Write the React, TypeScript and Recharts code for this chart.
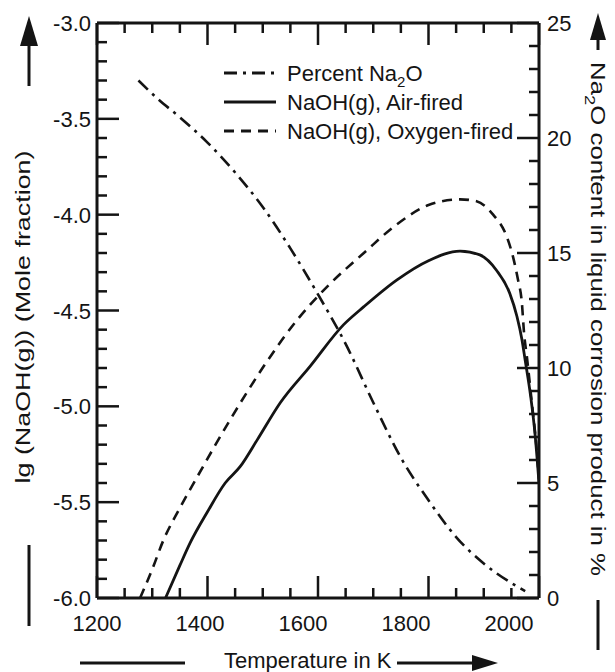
import { LineChart, Line, XAxis, YAxis, Legend } from "recharts"

// NaOH(g) air-fired: temperature (K) and lg mole fraction
const airTemp = [1324, 1350, 1369, 1400, 1432, 1459, 1490, 1532, 1586, 1646, 1683, 1743, 1800, 1857, 1893, 1923, 1947, 1960, 1969, 1975, 1985, 1993, 2000]
const airLg = [-6.0, -5.83, -5.71, -5.55, -5.4, -5.315, -5.175, -4.98, -4.79, -4.575, -4.48, -4.34, -4.24, -4.19, -4.21, -4.29, -4.41, -4.53, -4.65, -4.76, -4.95, -5.15, -5.4]

// NaOH(g) oxygen-fired
const oxyTemp = [1278, 1300, 1320, 1350, 1381, 1441, 1502, 1562, 1622, 1683, 1743, 1800, 1857, 1887, 1917, 1941, 1953, 1962, 1969, 1973, 1978, 1987, 1995, 2000]
const oxyLg = [-6.0, -5.85, -5.7, -5.53, -5.37, -5.07, -4.79, -4.55, -4.36, -4.2, -4.05, -3.95, -3.92, -3.93, -4.0, -4.11, -4.22, -4.34, -4.46, -4.62, -4.74, -4.98, -5.2, -5.38]

// Na2O content in liquid corrosion product (%)
const naTemp = [1275, 1310, 1350, 1400, 1450, 1500, 1550, 1600, 1650, 1700, 1750, 1800, 1850, 1900, 1950, 1975]
const naPct = [22.5, 21.7, 20.9, 19.8, 18.5, 17.0, 15.2, 13.2, 11.05, 8.5, 6.1, 4.25, 2.65, 1.5, 0.65, 0.3]

const xMajor = [1200, 1400, 1600, 1800, 2000]
const leftMajor = [-6.0, -5.5, -5.0, -4.5, -4.0, -3.5, -3.0]
const rightMajor = [0, 5, 10, 15, 20, 25]

const seriesNames = ["Percent Na2O", "NaOH(g), Air-fired", "NaOH(g), Oxygen-fired"]

const INK = "#141414"
const FONT = "'Liberation Sans', Arial, Helvetica, sans-serif"
const DASH = "10 7"
const DASHDOT = "13 6 3 6"

const xTicks = Array.from({ length: 17 }, (_, i) => 1200 + i * 50)
const leftTicks = Array.from({ length: 31 }, (_, i) => Math.round(-60 + i) / 10)
const rightTicks = Array.from({ length: 26 }, (_, i) => i)

const airData = airTemp.map((t, i) => ({ t, v: airLg[i] }))
const oxyData = oxyTemp.map((t, i) => ({ t, v: oxyLg[i] }))
const naData = naTemp.map((t, i) => ({ t, v: naPct[i] }))

function BottomTick(props: any) {
  const { x, y, payload } = props
  const major = xMajor.includes(payload.value)
  // labels in the original sit a little left of their ticks, more so towards 2000
  const shift = ((payload.value - 1200) / 800) * 30
  return (
    <g>
      <line x1={x} x2={x} y1={y} y2={y - (major ? 22 : 10)} stroke={INK} strokeWidth={2.5} />
      {major && (
        <text x={x - shift} y={y + 33} textAnchor="middle" fontSize={22} fontFamily={FONT} fill={INK}>
          {payload.value}
        </text>
      )}
    </g>
  )
}

function TopTick(props: any) {
  const { x, y, payload } = props
  const major = xMajor.includes(payload.value)
  return <line x1={x} x2={x} y1={y} y2={y + (major ? 22 : 10)} stroke={INK} strokeWidth={2.5} />
}

function LeftTick(props: any) {
  const { x, y, payload } = props
  const major = leftMajor.includes(payload.value)
  return (
    <g>
      <line x1={x} x2={x + (major ? 22 : 10)} y1={y} y2={y} stroke={INK} strokeWidth={2.5} />
      {major && (
        <text x={x - 6} y={y + 8} textAnchor="end" fontSize={22} fontFamily={FONT} fill={INK}>
          {payload.value.toFixed(1)}
        </text>
      )}
    </g>
  )
}

function RightTick(props: any) {
  const { x, y, payload } = props
  const major = rightMajor.includes(payload.value)
  return (
    <g>
      <line x1={x} x2={x - (major ? 22 : 10)} y1={y} y2={y} stroke={INK} strokeWidth={2.5} />
      {major && (
        <text x={x + 8} y={y + 8} textAnchor="start" fontSize={22} fontFamily={FONT} fill={INK}>
          {payload.value}
        </text>
      )}
    </g>
  )
}

const legendDash: Record<string, string | undefined> = {
  "Percent Na2O": DASHDOT,
  "NaOH(g), Air-fired": undefined,
  "NaOH(g), Oxygen-fired": DASH,
}

function LegendBox() {
  return (
    <svg width={300} height={90}>
      {seriesNames.map((name, i) => (
        <g key={name} transform={`translate(0, ${12 + i * 29})`}>
          <line x1={0} x2={52} y1={0} y2={0} stroke={INK} strokeWidth={2.8} strokeDasharray={legendDash[name]} />
          <text x={63} y={8} fontSize={22} fontFamily={FONT} fill={INK}>
            {name === "Percent Na2O" ? (
              <>
                <tspan>Percent Na</tspan>
                <tspan dy={6} fontSize={15}>2</tspan>
                <tspan dy={-6}>O</tspan>
              </>
            ) : (
              name
            )}
          </text>
        </g>
      ))}
    </svg>
  )
}

function Decorations() {
  return (
    <svg width={615} height={672} style={{ position: "absolute", left: 0, top: 0, pointerEvents: "none" }}>
      {/* left axis title with arrow */}
      <polygon points="29,16 20,46 38,46" fill={INK} />
      <line x1={29} x2={29} y1={40} y2={86} stroke={INK} strokeWidth={3} />
      <line x1={29} x2={29} y1={545} y2={626} stroke={INK} strokeWidth={3} />
      <text
        x={30}
        y={317}
        transform="rotate(-90, 30, 317)"
        textAnchor="middle"
        textLength={333}
        lengthAdjust="spacingAndGlyphs"
        fontSize={21}
        fontFamily={FONT}
        fill={INK}
      >
        lg (NaOH(g)) (Mole fraction)
      </text>

      {/* right axis title with arrow */}
      <polygon points="598,13 590,40 606,40" fill={INK} />
      <line x1={598} x2={598} y1={36} y2={50} stroke={INK} strokeWidth={3} />
      <line x1={598} x2={598} y1={600} y2={650} stroke={INK} strokeWidth={3} />
      <text
        x={591}
        y={62}
        transform="rotate(90, 591, 62)"
        textAnchor="start"
        textLength={514}
        lengthAdjust="spacingAndGlyphs"
        fontSize={21}
        fontFamily={FONT}
        fill={INK}
      >
        <tspan>Na</tspan>
        <tspan dy={6} fontSize={15}>2</tspan>
        <tspan dy={-6}>O content in liquid corrosion product in %</tspan>
      </text>

      {/* x axis title with arrow */}
      <line x1={80} x2={185} y1={663} y2={663} stroke={INK} strokeWidth={3} />
      <text x={224} y={668} fontSize={22} fontFamily={FONT} fill={INK}>
        Temperature in K
      </text>
      <line x1={397} x2={476} y1={663} y2={663} stroke={INK} strokeWidth={3} />
      <polygon points="472,655 472,671 498,663" fill={INK} />
    </svg>
  )
}

export default function App() {
  return (
    <div style={{ position: "absolute", left: 0, top: 0, width: 615, height: 672, background: "#fff" }}>
      <LineChart width={615} height={672} margin={{ top: 0, right: 0, bottom: 0, left: 0 }}>
        <XAxis
          xAxisId="bottom"
          dataKey="t"
          type="number"
          domain={[1200, 2000]}
          ticks={xTicks}
          interval={0}
          height={74}
          tickSize={0}
          tickMargin={0}
          tickLine={false}
          axisLine={{ stroke: INK, strokeWidth: 3 }}
          tick={<BottomTick />}
          allowDataOverflow
        />
        <XAxis
          xAxisId="top"
          orientation="top"
          dataKey="t"
          type="number"
          domain={[1200, 2000]}
          ticks={xTicks}
          interval={0}
          height={23}
          tickSize={0}
          tickMargin={0}
          tickLine={false}
          axisLine={{ stroke: INK, strokeWidth: 3 }}
          tick={<TopTick />}
          allowDataOverflow
        />
        <YAxis
          yAxisId="left"
          type="number"
          domain={[-6, -3]}
          ticks={leftTicks}
          interval={0}
          width={97}
          tickSize={0}
          tickMargin={0}
          tickLine={false}
          axisLine={{ stroke: INK, strokeWidth: 3 }}
          tick={<LeftTick />}
          allowDataOverflow
        />
        <YAxis
          yAxisId="right"
          orientation="right"
          type="number"
          domain={[0, 25]}
          ticks={rightTicks}
          interval={0}
          width={76}
          tickSize={0}
          tickMargin={0}
          tickLine={false}
          axisLine={{ stroke: INK, strokeWidth: 3 }}
          tick={<RightTick />}
          allowDataOverflow
        />
        <Legend
          layout="vertical"
          align="center"
          verticalAlign="middle"
          wrapperStyle={{ left: 224, top: 61, width: 300 }}
          content={() => <LegendBox />}
        />
        <Line
          data={naData}
          dataKey="v"
          name={seriesNames[0]}
          xAxisId="bottom"
          yAxisId="right"
          type="monotone"
          stroke={INK}
          strokeWidth={2.6}
          strokeDasharray={DASHDOT}
          dot={false}
          isAnimationActive={false}
        />
        <Line
          data={airData}
          dataKey="v"
          name={seriesNames[1]}
          xAxisId="bottom"
          yAxisId="left"
          type="monotone"
          stroke={INK}
          strokeWidth={2.8}
          dot={false}
          isAnimationActive={false}
        />
        <Line
          data={oxyData}
          dataKey="v"
          name={seriesNames[2]}
          xAxisId="bottom"
          yAxisId="left"
          type="monotone"
          stroke={INK}
          strokeWidth={2.6}
          strokeDasharray={DASH}
          dot={false}
          isAnimationActive={false}
        />
      </LineChart>
      <Decorations />
    </div>
  )
}
